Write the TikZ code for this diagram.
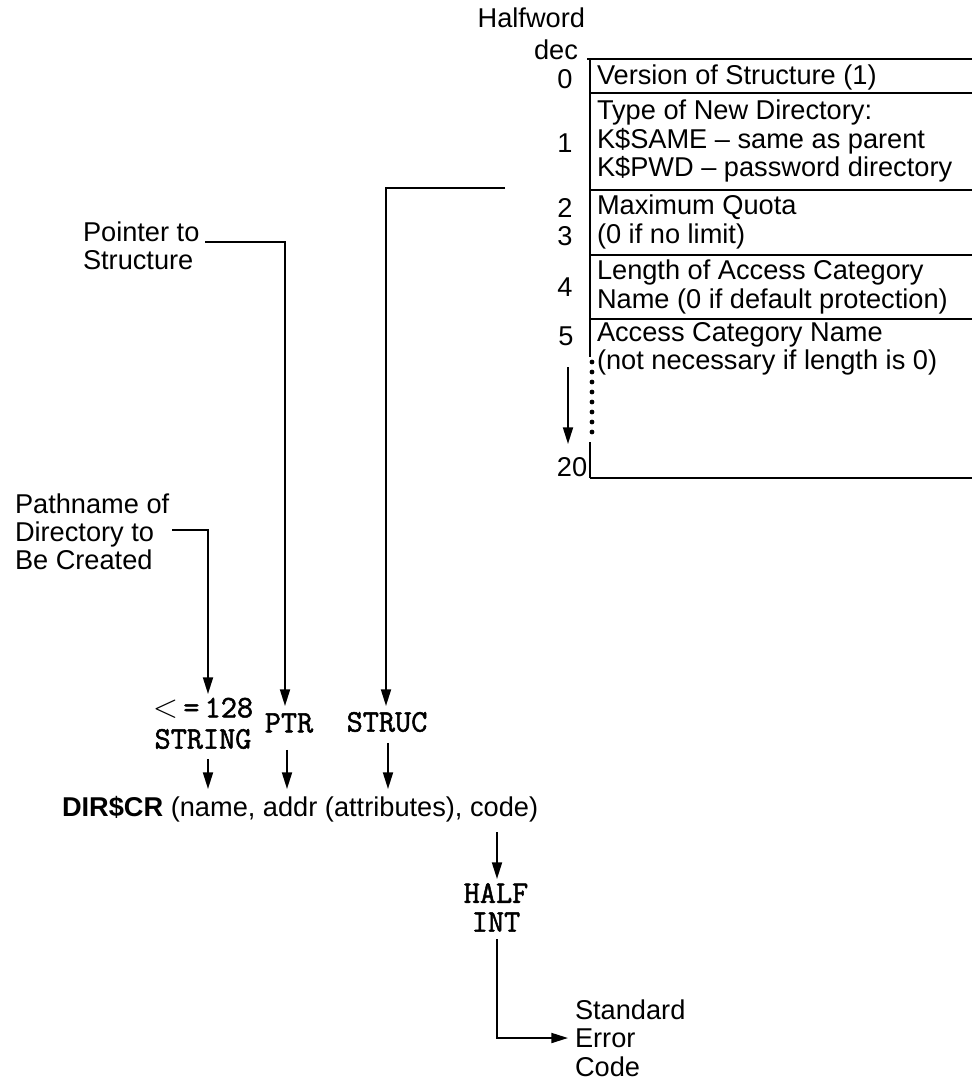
\documentclass[tikz,border=0pt]{standalone}
\usepackage{fontspec}
\setmainfont{Liberation Sans}
\newfontfamily\typew{Latin Modern Mono}[FakeBold=1.6]
\usetikzlibrary{arrows.meta}
\tikzset{
  lbl/.style={inner sep=0pt, outer sep=0pt, align=left, anchor=west, font=\fontsize{20.4}{21.2}\selectfont},
  num/.style={inner sep=0pt, outer sep=0pt, font=\fontsize{20.4}{21.2}\selectfont},
  tt/.style={inner sep=0pt, outer sep=0pt, font=\fontsize{23.5}{23.5}\selectfont\typew},
  ln/.style={line width=1.4pt},
  arr/.style={line width=1.4pt, -{Triangle[length=12.5pt,width=7.5pt]}},
  dotc/.style={fill=black, draw=none}
}
\begin{document}
\begin{tikzpicture}[x=0.75pt,y=-0.75pt]
\useasboundingbox (0,0) rectangle (972,1082);

% ---- table header
\node[num, anchor=east] (hw) at (585,18) {Halfword};
\node[num] (dec) at (556,50) {dec};

% ---- table lines
\draw[ln] (587,59) -- (972,59);
\draw[ln] (590,93) -- (972,93);
\draw[ln] (590,190) -- (972,190);
\draw[ln] (590,255) -- (972,255);
\draw[ln] (590,319) -- (972,319);
\draw[ln] (590,478) -- (972,478);
\draw[ln] (590,59) -- (590,357);
\draw[ln] (590,442) -- (590,478);
\foreach \yy in {362,372,...,436} \fill[dotc] (592,\yy) circle (2.4);

% ---- row numbers
\node[num] (n0) at (565,79) {0};
\node[num] (n1) at (565,143) {1};
\node[num] (n2) at (565,208) {2};
\node[num] (n3) at (565,236) {3};
\node[num] (n4) at (565,287) {4};
\node[num] (n5) at (566,336) {5};
\node[num] (n20) at (572,467) {20};
\coordinate (ca) at (568,367);
\coordinate (cb) at (568,444);
\draw[arr] (ca) -- (cb);

% ---- row texts
\node[lbl] (r0) at (597,77) {Version of Structure (1)};
\node[lbl] (r1) at (597,141) {Type of New Directory:\\K\$SAME -- same as parent\\K\$PWD -- password directory};
\node[lbl] (r2) at (597,222) {Maximum Quota\\(0 if no limit)};
\node[lbl] (r4) at (597,287) {Length of Access Category\\Name (0 if default protection)};
\node[lbl] (r5) at (597,349) {Access Category Name\\(not necessary if length is 0)};

% ---- left labels
\node[lbl] (ptrlbl) at (83,246) {Pointer to\\Structure};
\node[lbl] (pathlbl) at (15,532) {Pathname of\\Directory to\\Be Created};

% ---- types
\node[tt] (le) at (203,708) {$<$\,=\,128};
\node[tt] (str) at (203,739) {STRING};
\node[tt] (ptr) at (289,723) {PTR};
\node[tt] (struc) at (387,722) {STRUC};

% ---- call
\node[inner sep=0pt, outer sep=0pt, anchor=base west, font=\fontsize{20.4}{21.2}\selectfont] (call) at (62,816) {\textbf{DIR\$CR} (name, addr (attributes), code)};

\node[tt] (half) at (496,893) {HALF};
\node[tt] (int) at (496,922) {INT};
\node[lbl] (err) at (575,1038) {Standard\\Error\\Code};

% ---- connectors
\coordinate (pa) at (172,530);
\coordinate (pb) at (208,694);
\draw[arr] (pa) -| (pb);
\coordinate (qa) at (205,242);
\coordinate (qb) at (285,706);
\draw[arr] (qa) -| (qb);
\coordinate (sa) at (505,188);
\coordinate (sb) at (386,706);
\draw[arr] (sa) -| (sb);

\coordinate (t1) at (208,789);
\coordinate (t2) at (287,789);
\coordinate (t3) at (388,789);
\draw[arr] (str.south -| t1) ++(0,10) -- (t1);
\draw[arr] (ptr.south -| t2) ++(0,17) -- (t2);
\draw[arr] (struc.south -| t3) ++(0,11) -- (t3);

\coordinate (c1) at (497,832);
\coordinate (c2) at (497,879);
\draw[arr] (c1) -- (c2);
\coordinate (h1) at (497,939);
\coordinate (h2) at (568,1038);
\draw[arr] (h1) |- (h2);
\end{tikzpicture}
\end{document}
